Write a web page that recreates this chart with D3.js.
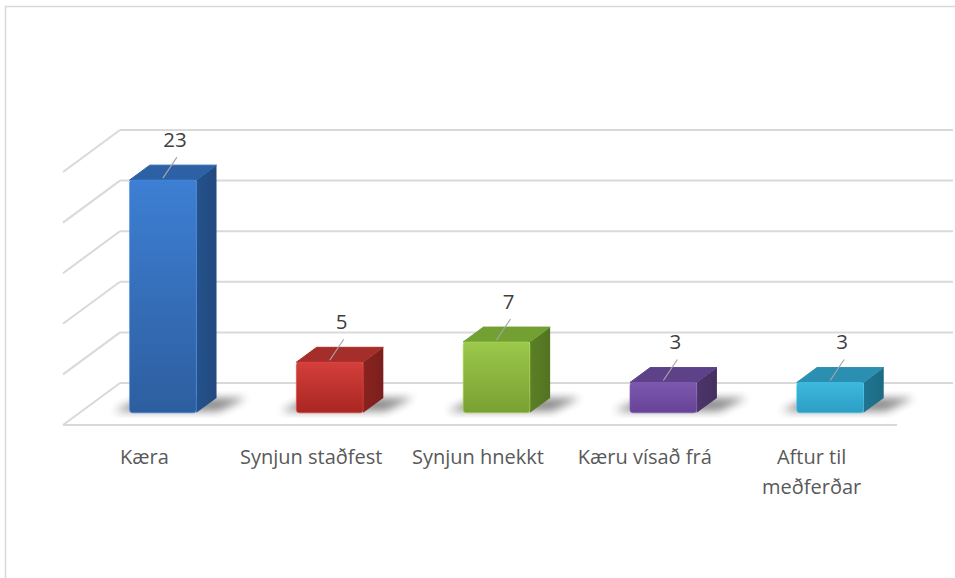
<!DOCTYPE html>
<meta charset="utf-8">
<style>

body {
  margin: 0;
  background: #fff;
}

text {
  font-family: "Open Sans", sans-serif;
}

.grid line {
  stroke: #d9d9d9;
  stroke-width: 2px;
}

.cat-label {
  fill: #595959;
  font-size: 20px;
}

.val-label {
  fill: #404040;
  font-size: 20.5px;
}

</style>
<svg width="955" height="578"></svg>
<script src="https://d3js.org/d3.v7.min.js"></script>
<script>

// chart data
var categories = ["Kæra", "Synjun staðfest", "Synjun hnekkt", "Kæru vísað frá", "Aftur til meðferðar"];
var values = [23, 5, 7, 3, 3];
var yTicks = [0, 5, 10, 15, 20, 25];

// colours for each bar: front top, front bottom, top face, side face
var barColors = [
  ["#3d7fd3", "#2d5e9f", "#2c61a6", "#214a7f"],
  ["#d43f3a", "#a92622", "#a52e2a", "#7b1f1c"],
  ["#9cc84b", "#78a033", "#73a033", "#527321"],
  ["#7c58ae", "#674397", "#5d4189", "#44305f"],
  ["#3db8de", "#2c9ec4", "#2b8fb1", "#1d6a83"]
];

var svg = d3.select("svg");

// oblique 3D: depth vector goes from the front plane to the back wall
var DEPTH = {x: 57, y: -42};
var Z0 = 0.29, Z1 = 0.645;   // bar front / back depth
var RIGHT_CLIP = 953;

var x = d3.scaleBand()
    .domain(categories)
    .range([63, 897]);

var y = d3.scaleLinear()
    .domain([0, 25])
    .range([425, 172]);

var barW = x.bandwidth() * 0.4;

function pt(px, v, z) {
  return [px + DEPTH.x * z, y(v) + DEPTH.y * z];
}

// soft box border
svg.append("rect")
    .attr("x", 5.5)
    .attr("y", 6.5)
    .attr("width", 1000)
    .attr("height", 1000)
    .attr("fill", "none")
    .attr("stroke", "#d9d9d9")
    .attr("stroke-width", 1.5);

var defs = svg.append("defs");

defs.append("filter")
    .attr("id", "blur")
    .attr("x", "-50%").attr("y", "-50%")
    .attr("width", "200%").attr("height", "200%")
  .append("feGaussianBlur")
    .attr("stdDeviation", 4);

barColors.forEach(function(c, i) {
  var g = defs.append("linearGradient")
      .attr("id", "front" + i)
      .attr("x1", 0).attr("y1", 0).attr("x2", 0).attr("y2", 1);
  g.append("stop").attr("offset", "0%").attr("stop-color", c[0]);
  g.append("stop").attr("offset", "100%").attr("stop-color", c[1]);

  var s = defs.append("linearGradient")
      .attr("id", "side" + i)
      .attr("x1", 0).attr("y1", 0).attr("x2", 1).attr("y2", 0);
  s.append("stop").attr("offset", "0%").attr("stop-color", d3.color(c[3]).brighter(0.3));
  s.append("stop").attr("offset", "100%").attr("stop-color", c[3]);
});

/************* GRID ***************/
var grid = svg.append("g").attr("class", "grid");
var left = x.range()[0];

grid.selectAll("line.back")
    .data(yTicks)
    .enter().append("line")
      .attr("class", "back")
      .attr("x1", function(d) { return pt(left, d, 1)[0]; })
      .attr("y1", function(d) { return pt(left, d, 1)[1]; })
      .attr("x2", RIGHT_CLIP)
      .attr("y2", function(d) { return pt(left, d, 1)[1]; });

grid.selectAll("line.side")
    .data(yTicks)
    .enter().append("line")
      .attr("class", "side")
      .attr("x1", function(d) { return pt(left, d, 1)[0]; })
      .attr("y1", function(d) { return pt(left, d, 1)[1]; })
      .attr("x2", function(d) { return pt(left, d, 0)[0]; })
      .attr("y2", function(d) { return pt(left, d, 0)[1]; });

grid.append("line")
    .attr("x1", pt(left, 0, 0)[0])
    .attr("y1", pt(left, 0, 0)[1])
    .attr("x2", pt(x.range()[1], 0, 0)[0])
    .attr("y2", pt(x.range()[1], 0, 0)[1]);

/************* BARS ***************/
var data = categories.map(function(c, i) { return {cat: c, value: values[i], i: i}; });

function poly(points) {
  return "M" + points.map(function(p) { return p.join(","); }).join("L") + "Z";
}

var bars = svg.append("g")
    .selectAll("g")
    .data(data)
    .enter().append("g");

// floor shadow
bars.append("path")
    .attr("d", function(d) {
      var x0 = x(d.cat) + (x.bandwidth() - barW) / 2, x1 = x0 + barW;
      return poly([
        pt(x0 - 18, 0, Z0 + 0.04), pt(x1 + 20, 0, Z0 + 0.04),
        pt(x1 + 30, 0, Z1), pt(x0 - 8, 0, Z1)
      ]);
    })
    .attr("fill", "#000")
    .attr("opacity", 0.45)
    .attr("filter", "url(#blur)");

// side face
bars.append("path")
    .attr("d", function(d) {
      var x1 = x(d.cat) + (x.bandwidth() + barW) / 2;
      return poly([pt(x1, 0, Z0), pt(x1, d.value, Z0), pt(x1, d.value, Z1), pt(x1, 0, Z1)]);
    })
    .attr("fill", function(d) { return "url(#side" + d.i + ")"; });

// top face
bars.append("path")
    .attr("d", function(d) {
      var x0 = x(d.cat) + (x.bandwidth() - barW) / 2, x1 = x0 + barW;
      return poly([pt(x0, d.value, Z0), pt(x1, d.value, Z0), pt(x1, d.value, Z1), pt(x0, d.value, Z1)]);
    })
    .attr("fill", function(d) { return barColors[d.i][2]; })
    .attr("stroke", function(d) { return barColors[d.i][2]; })
    .attr("stroke-width", 1)
    .attr("stroke-linejoin", "round");

// front face
bars.append("rect")
    .attr("x", function(d) { return pt(x(d.cat) + (x.bandwidth() - barW) / 2, 0, Z0)[0]; })
    .attr("y", function(d) { return pt(0, d.value, Z0)[1]; })
    .attr("width", barW)
    .attr("height", function(d) { return y(0) - y(d.value); })
    .attr("rx", 3)
    .attr("fill", function(d) { return "url(#front" + d.i + ")"; })
    .attr("stroke", function(d) { return d3.color(barColors[d.i][0]).brighter(0.25); })
    .attr("stroke-opacity", 0.6)
    .attr("stroke-width", 1);

/************* VALUE LABELS ***************/
bars.append("line")
    .attr("x1", function(d) { return pt(x(d.cat) + x.bandwidth() / 2, d.value, Z0)[0]; })
    .attr("y1", function(d) { return pt(0, d.value, Z0)[1] - 2; })
    .attr("x2", function(d) { return pt(x(d.cat) + x.bandwidth() / 2, d.value, Z0)[0] + 14; })
    .attr("y2", function(d) { return pt(0, d.value, Z0)[1] - 23; })
    .attr("stroke", "#a6a6a6")
    .attr("stroke-width", 1.2);

bars.append("text")
    .attr("class", "val-label")
    .attr("text-anchor", "middle")
    .attr("x", function(d) { return pt(x(d.cat) + x.bandwidth() / 2, d.value, Z0)[0] + 12; })
    .attr("y", function(d) { return pt(0, d.value, Z0)[1] - 33; })
    .text(function(d) { return d.value; });

/************* CATEGORY LABELS ***************/
var labels = svg.append("g")
    .selectAll("text")
    .data(categories)
    .enter().append("text")
      .attr("class", "cat-label")
      .attr("text-anchor", "middle")
      .attr("x", function(d) { return x(d) + x.bandwidth() / 2 - 2; })
      .attr("y", 464);

// wrap the long labels like the original does
labels.each(function(d) {
  var t = d3.select(this);
  t.text(d);
  if (this.getComputedTextLength() <= x.bandwidth()) return;
  t.text(null);
  var words = d.split(" "), lines = [[]];
  words.forEach(function(w) {
    var cur = lines[lines.length - 1];
    t.text(cur.concat(w).join(" "));
    if (cur.length && this.getComputedTextLength() > x.bandwidth() * 0.9) lines.push([w]);
    else cur.push(w);
  }, this);
  t.text(null);
  lines.forEach(function(l, k) {
    t.append("tspan")
        .attr("x", t.attr("x"))
        .attr("dy", k ? 30 : 0)
        .text(l.join(" "));
  });
});

</script>
